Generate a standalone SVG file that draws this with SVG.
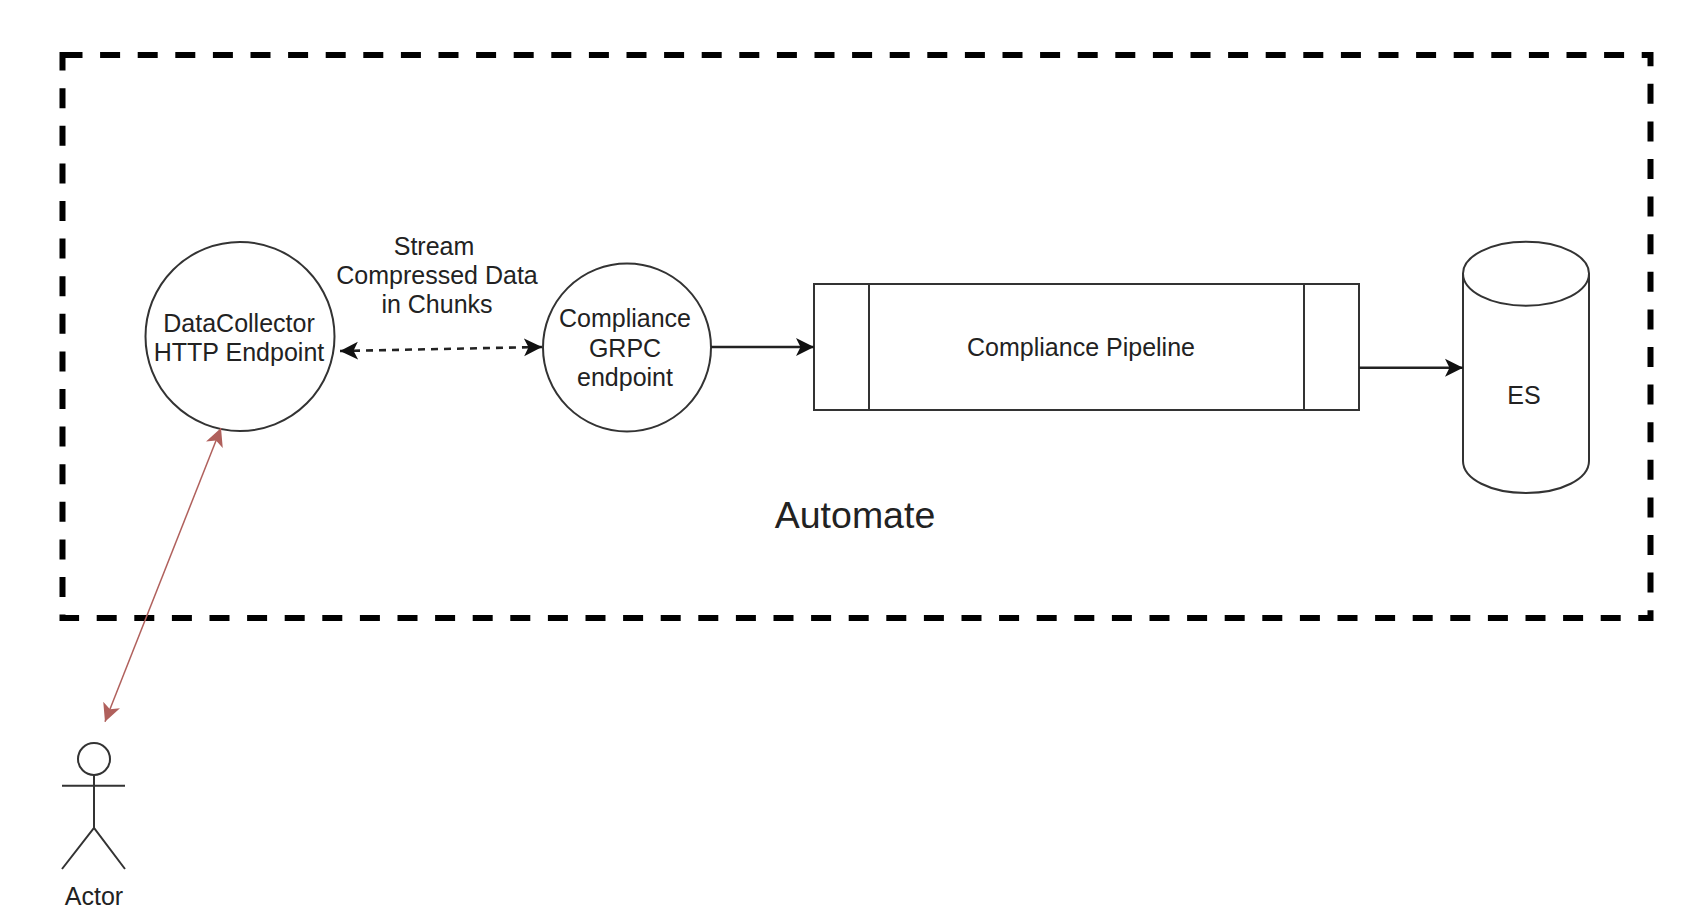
<svg xmlns="http://www.w3.org/2000/svg" width="1690" height="918" viewBox="0 0 1690 918">
<style>
text{font-family:"Liberation Sans",Arial,Helvetica,sans-serif;font-size:25px;fill:#222;text-anchor:middle}
.s{fill:#fff;stroke:#333;stroke-width:2}
.l{fill:none;stroke:#333;stroke-width:2}
.a{fill:none;stroke:#222;stroke-width:2.6}
</style>
<defs>
<marker id="ab" markerUnits="userSpaceOnUse" markerWidth="20" markerHeight="20" refX="18" refY="9" orient="auto-start-reverse" viewBox="0 0 20 18"><path d="M0 0L18 9L0 18L4.500 9Z" fill="#111"/></marker>
<marker id="ar" markerUnits="userSpaceOnUse" markerWidth="20" markerHeight="20" refX="18" refY="9" orient="auto-start-reverse" viewBox="0 0 20 18"><path d="M0 0L18 9L0 18L4.500 9Z" fill="#b0605c"/></marker>
</defs>
<rect id="frame" x="62.5" y="55" width="1588" height="563" fill="none" stroke="#000" stroke-width="6" stroke-dasharray="20 17.6"/>
<text id="automate" x="855" y="528" style="font-size:37.500px">Automate</text>
<text id="edge-label" x="436" y="254.500"><tspan x="434">Stream</tspan><tspan x="437" y="283.500">Compressed Data</tspan><tspan x="437" y="312.500">in Chunks</tspan></text>
<g id="datacollector"><circle class="s" cx="240" cy="336.5" r="94.5"/><text x="239" y="332">DataCollector</text><text x="239" y="361">HTTP Endpoint</text></g>
<g id="grpc"><circle class="s" cx="627" cy="347.5" r="84"/><text x="625" y="327">Compliance</text><text x="625" y="356.5">GRPC</text><text x="625" y="385.5">endpoint</text></g>
<g id="pipeline"><rect class="s" x="814" y="284" width="545" height="126"/><path class="l" d="M869 284V410M1304 284V410"/><text x="1081" y="356">Compliance Pipeline</text></g>
<g id="es"><path class="s" d="M1463 273.500C1463 256 1491 241.700 1526 241.700S1589 256 1589 273.500V461C1589 479 1561 493 1526 493S1463 479 1463 461Z"/><path class="l" d="M1463 273.500C1463 291.500 1491 305.700 1526 305.700S1589 291.500 1589 273.500"/><text x="1524" y="404">ES</text></g>
<g id="actor"><circle class="s" cx="94" cy="759" r="16"/><path class="l" d="M94 775V828M62 785.700H125M62 869L94 828L125 869"/><text x="94" y="905">Actor</text></g>
<g id="connectors">
<path class="a" stroke-dasharray="7 6" d="M340 351L542 347" marker-start="url(#ab)" marker-end="url(#ab)"/>
<path class="a" d="M711 347H814" marker-end="url(#ab)"/>
<path class="a" d="M1359 367.700H1463" marker-end="url(#ab)"/>
<path fill="none" stroke="#b0605c" stroke-width="1.500" d="M221 428L105 721.700" marker-start="url(#ar)" marker-end="url(#ar)"/>
</g>
</svg>
